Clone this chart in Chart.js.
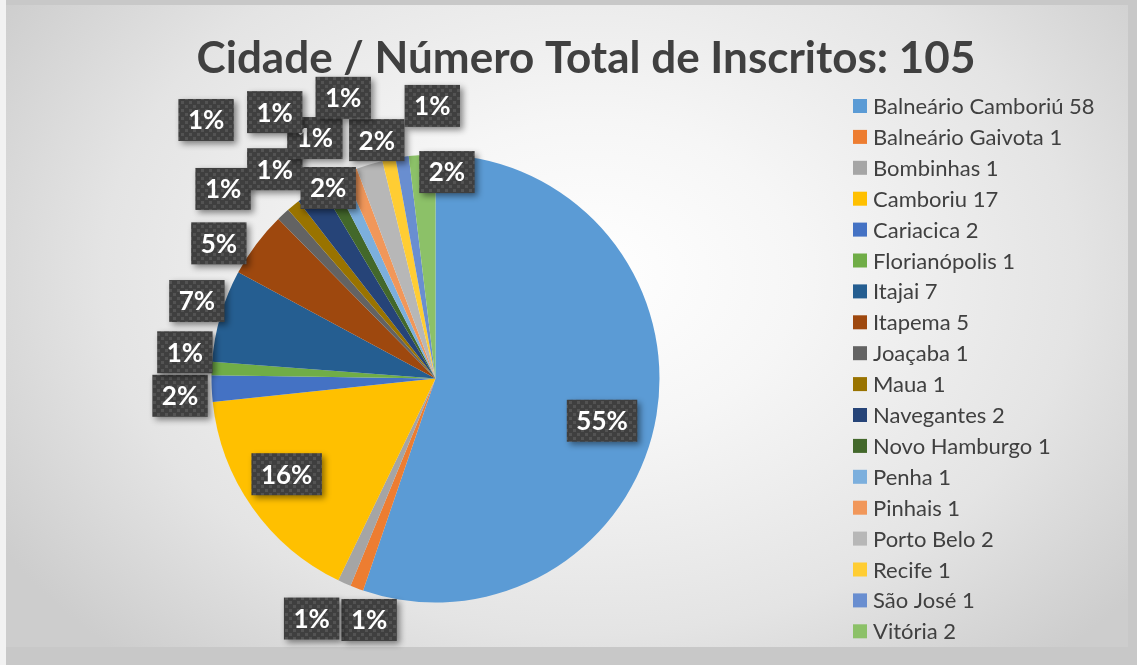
<!DOCTYPE html>
<html>
<head>
<meta charset="utf-8">
<script src="https://cdn.jsdelivr.net/npm/chart.js"></script>
<style>
html, body { margin: 0; padding: 0; }
body { width: 1137px; height: 665px; background: #c8c8c8; position: relative; overflow: hidden; }
#strip { position: absolute; left: 0; top: 0; width: 6px; height: 665px; background: #f2f2f2; }
#panel {
    position: absolute; left: 6px; top: 5px; width: 1122px; height: 642px;
    background: radial-gradient(ellipse 62% 80% at 52% 42%, #ffffff 0%, #f6f6f6 30%, #e4e4e4 70%, #cdcdcd 100%);
}
#chart { position: absolute; left: 0; top: 0; }
</style>
</head>
<body>
<div id="strip"></div>
<div id="panel"></div>
<canvas id="chart" width="1137" height="665"></canvas>
<script>
// data
const cities = ['Balneário Camboriú', 'Balneário Gaivota', 'Bombinhas', 'Camboriu', 'Cariacica', 'Florianópolis',
    'Itajai', 'Itapema', 'Joaçaba', 'Maua', 'Navegantes', 'Novo Hamburgo', 'Penha', 'Pinhais',
    'Porto Belo', 'Recife', 'São José', 'Vitória'];
const inscritos = [58, 1, 1, 17, 2, 1, 7, 5, 1, 1, 2, 1, 1, 1, 2, 1, 1, 2];
const sliceColors = ['#5B9BD5', '#ED7D31', '#A5A5A5', '#FFC000', '#4472C4', '#70AD47', '#255E91', '#9E480E',
    '#636363', '#997300', '#264478', '#43682B', '#7CAFDD', '#F1975A', '#B7B7B7', '#FFCD33', '#698ED0', '#8CC168'];
const chartTitle = 'Cidade / Número Total de Inscritos: 105';

// where each % label sits: [distance as a fraction of the radius, turn from the slice middle in degrees]
const labelSpots = [
    [0.767, 4.8], [1.118, -5.2], [1.206, 3.3], [0.79, 2.4], [1.143, -1.3], [1.125, 3.4],
    [1.12, 1.7], [1.14, -4.9], [1.271, -5.4], [1.178, 1.9], [0.976, 4.9], [1.201, 2.5],
    [1.389, -5.4], [1.543, -19.3], [1.096, 3.3], [1.319, -6.2], [1.217, 7.9], [0.923, 6.6]
];

function boxPattern(ctx) {
    const tile = document.createElement('canvas');
    tile.width = 8;
    tile.height = 8;
    const t = tile.getContext('2d');
    t.fillStyle = '#3f3f3f';
    t.fillRect(0, 0, 8, 8);
    t.fillStyle = '#535353';
    t.fillRect(1, 1, 3, 3);
    t.fillRect(5, 5, 3, 3);
    return ctx.createPattern(tile, 'repeat');
}

// title and legend, drawn like the Excel original
const titleAndLegend = {
    id: 'titleAndLegend',
    afterDraw(chart) {
        const ctx = chart.ctx;
        ctx.save();
        ctx.fillStyle = '#404040';
        ctx.font = 'bold 44px Lato';
        ctx.textAlign = 'center';
        ctx.textBaseline = 'alphabetic';
        ctx.fillText(chartTitle, 586, 73);

        ctx.font = '22px Lato';
        ctx.textAlign = 'left';
        ctx.textBaseline = 'middle';
        cities.forEach(function(name, i) {
            const y = 106 + i * 30.9;
            ctx.fillStyle = sliceColors[i];
            ctx.fillRect(853, y - 7, 14, 14);
            ctx.fillStyle = '#404040';
            ctx.fillText(name + ' ' + inscritos[i], 873, y + 1);
        });
        ctx.restore();
    }
};

// percentage boxes
const sliceLabels = {
    id: 'sliceLabels',
    afterDatasetsDraw(chart) {
        const ctx = chart.ctx;
        const meta = chart.getDatasetMeta(0);
        const total = inscritos.reduce(function(a, b) { return a + b; }, 0);
        const pattern = boxPattern(ctx);
        ctx.save();
        ctx.font = 'bold 26px Lato';
        ctx.textAlign = 'center';
        ctx.textBaseline = 'middle';
        meta.data.forEach(function(arc, i) {
            const mid = (arc.startAngle + arc.endAngle) / 2 + labelSpots[i][1] * Math.PI / 180;
            const dist = arc.outerRadius * labelSpots[i][0];
            const x = arc.x + Math.cos(mid) * dist;
            const y = arc.y + Math.sin(mid) * dist;
            const text = Math.round(inscritos[i] / total * 100) + '%';
            const w = ctx.measureText(text).width + 19;
            const h = 42;
            ctx.save();
            ctx.shadowColor = 'rgba(0,0,0,0.45)';
            ctx.shadowBlur = 6;
            ctx.shadowOffsetX = 3;
            ctx.shadowOffsetY = 3;
            ctx.fillStyle = pattern;
            ctx.fillRect(x - w / 2, y - h / 2, w, h);
            ctx.restore();
            ctx.fillStyle = '#ffffff';
            ctx.fillText(text, x, y + 1);
        });
        ctx.restore();
    }
};

const pieCtx = document.getElementById('chart').getContext('2d');
new Chart(pieCtx, {
    type: 'pie',
    data: {
        labels: cities,
        datasets: [{
            data: inscritos,
            backgroundColor: sliceColors,
            borderWidth: 0,
            hoverOffset: 0,
            offset: 0
        }]
    },
    options: {
        responsive: false,
        animation: false,
        devicePixelRatio: 1,
        layout: {
            padding: { left: 211.5, right: 477.5, top: 154.5, bottom: 62.5 }
        },
        plugins: {
            legend: { display: false },
            title: { display: false },
            tooltip: { enabled: false }
        }
    },
    plugins: [titleAndLegend, sliceLabels]
});
</script>
</body>
</html>
